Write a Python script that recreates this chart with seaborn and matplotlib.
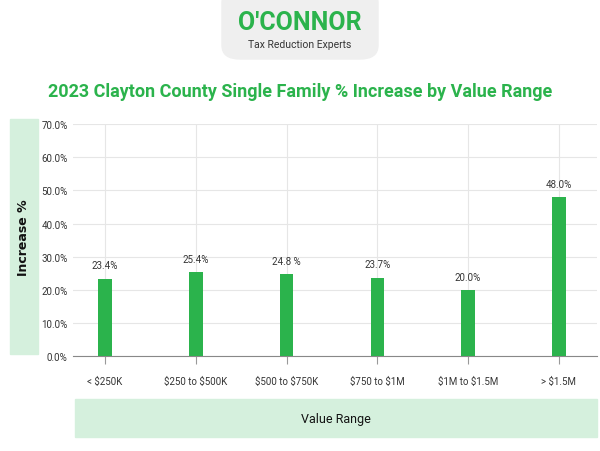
import matplotlib
matplotlib.use("Agg")
import matplotlib.pyplot as plt
import seaborn as sns
import pandas as pd
from matplotlib.patches import FancyBboxPatch, Rectangle

plt.rcParams["text.parse_math"] = False
plt.rcParams["font.family"] = "Roboto"

categories = ["< $250K", "$250 to $500K", "$500 to $750K", "$750 to $1M", "$1M to $1.5M", "> $1.5M"]
increase = [23.4, 25.4, 24.8, 23.7, 20.0, 48.0]
value_labels = ["23.4%", "25.4%", "24.8 %", "23.7%", "20.0%", "48.0%"]
yticks = [0, 10, 20, 30, 40, 50, 60, 70]

green = "#2bb34c"
pale = "#d5f0dd"
df = pd.DataFrame({"range": categories, "increase": increase})

fig = plt.figure(figsize=(6, 4.52), dpi=100)
ax = fig.add_axes([0.122, 0.21, 0.873, 0.513])
sns.barplot(data=df, x="range", y="increase", color=green, width=0.15,
            saturation=1, ax=ax, zorder=3)
ax.set_xlim(-0.35, 5.42)
ax.set_ylim(0, 70)
ax.set_yticks(yticks)
ax.set_yticklabels([f"{t:.1f}%" for t in yticks], fontsize=7, color="#333333")
ax.tick_params(axis="y", length=0, pad=4)
ax.tick_params(axis="x", length=6, direction="out", color="#999999", pad=8, labelsize=7, labelcolor="#333333")
ax.grid(True, color="#e6e6e6", linewidth=0.8, zorder=0)
ax.set_axisbelow(True)
for s in ["top", "right", "left"]:
    ax.spines[s].set_visible(False)
ax.spines["bottom"].set_color("#888888")
ax.set_xlabel("")
ax.set_ylabel("")
for i, (v, lab) in enumerate(zip(increase, value_labels)):
    ax.text(i, v + 2.5, lab, ha="center", va="bottom", fontsize=7, color="#333333")

# axis title boxes
fig.patches.append(Rectangle((10 / 600, 1 - 355 / 452), 28 / 600, 235 / 452,
                             transform=fig.transFigure, color=pale, zorder=0))
fig.text(24 / 600, 1 - 238 / 452, "Increase %", rotation=90, ha="center", va="center",
         fontsize=9, fontweight="bold", color="#111111", fontfamily="DejaVu Sans")
fig.patches.append(Rectangle((75 / 600, 1 - 438 / 452), 522 / 600, 38 / 452,
                             transform=fig.transFigure, color=pale, zorder=0))
fig.text(336 / 600, 1 - 419 / 452, "Value Range", ha="center", va="center",
         fontsize=9, color="#111111")

# title and logo
fig.text(0.5, 1 - 92 / 452, "2023 Clayton County Single Family % Increase by Value Range",
         ha="center", va="center", fontsize=13, fontweight="bold", color=green)
fig.patches.append(FancyBboxPatch((222 / 600, 1 - 60 / 452), 156 / 600, 70 / 452,
                                  boxstyle="round,pad=0,rounding_size=0.03",
                                  transform=fig.transFigure, color="#efefef", zorder=0))
fig.text(0.5, 1 - 23 / 452, "O'CONNOR", ha="center", va="center", fontsize=18,
         fontweight="bold", color=green)
fig.text(0.5, 1 - 45 / 452, "Tax Reduction Experts", ha="center", va="center",
         fontsize=7.5, color="#333333")

fig.savefig("out.png", dpi=100)
